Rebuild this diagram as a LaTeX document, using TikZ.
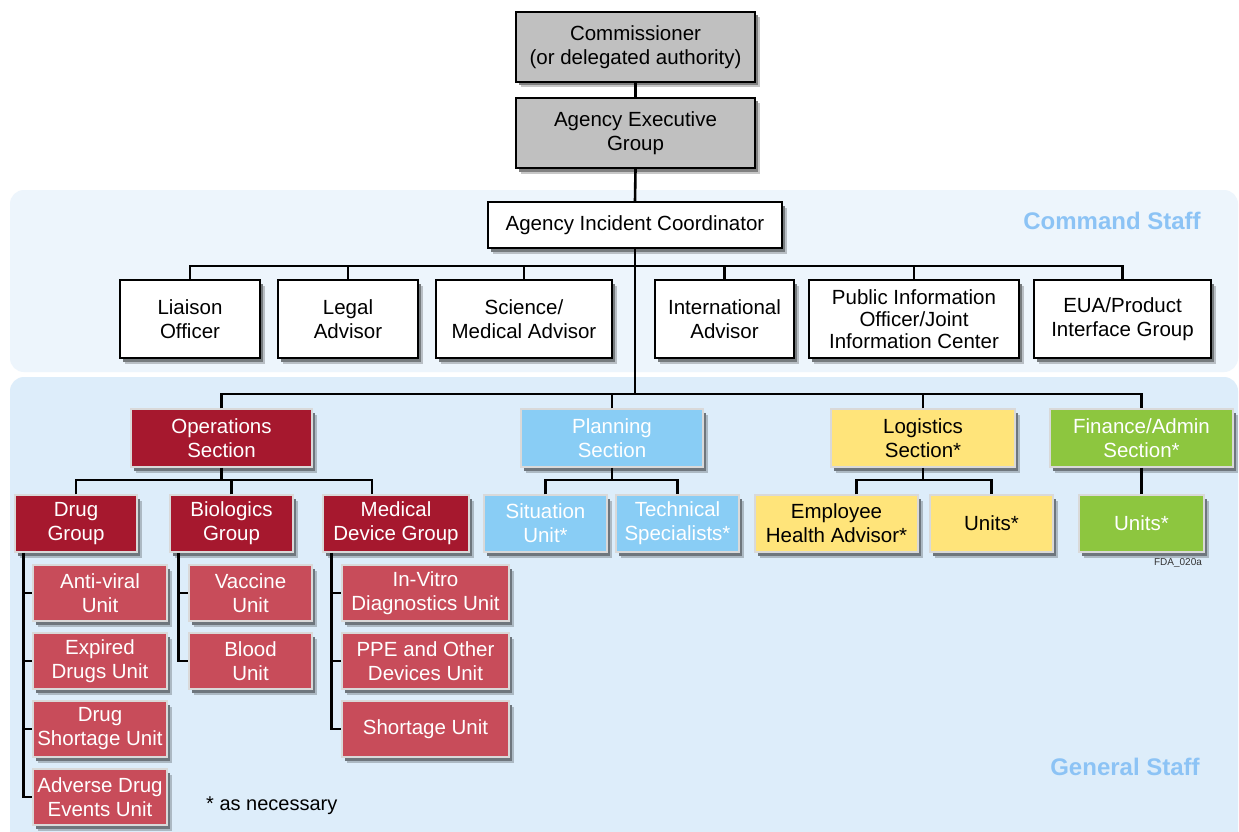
\documentclass[tikz,border=0pt]{standalone}
\usepackage{fontspec}
\setmainfont{Liberation Sans}
\usetikzlibrary{shadows}

\definecolor{cmdband}{RGB}{237,245,252}
\definecolor{genband}{RGB}{221,237,250}
\definecolor{boxgrey}{RGB}{192,192,192}
\definecolor{opsred}{RGB}{166,24,46}
\definecolor{unitred}{RGB}{200,76,90}
\definecolor{planblue}{RGB}{137,205,245}
\definecolor{logyellow}{RGB}{255,228,122}
\definecolor{fingreen}{RGB}{141,198,63}
\definecolor{staffblue}{RGB}{140,195,245}

% box from corner (x1,y1) to corner (x2,y2)
\newcommand\orgbox[7]{%
  \pgfmathsetmacro\obxc{(#3+#5)/2}\pgfmathsetmacro\obyc{(#4+#6)/2}%
  \pgfmathsetmacro\obw{#5-#3}\pgfmathsetmacro\obh{#6-#4}%
  \node[#1,minimum width=\obw pt,minimum height=\obh pt] (#2) at (\obxc,\obyc) {#7};}

\begin{document}
\begin{tikzpicture}[x=1pt,y=-1pt,
  base/.style={rectangle,align=center,inner sep=0pt,
    font=\fontsize{20.5}{24}\selectfont},
  % soft shadow: a light outer layer under a darker inner one
  shd/.style={
    general shadow={shadow xshift=5pt,shadow yshift=-5.5pt,fill=black!22!#1,draw=none},
    general shadow={shadow xshift=3pt,shadow yshift=-3.5pt,fill=black!50!#1,draw=none}},
  wbox/.style={base,shd=cmdband,draw=black,line width=2.4pt,fill=white},
  gbox/.style={base,shd=white,draw=black,line width=2.4pt,fill=boxgrey},
  cbox/.style={base,shd=genband,draw=white!85!black,line width=1.5pt},
  opsbox/.style={cbox,fill=opsred,text=white},
  unitbox/.style={cbox,fill=unitred,text=white},
  planbox/.style={cbox,fill=planblue,text=white},
  logbox/.style={cbox,fill=logyellow,text=black},
  finbox/.style={cbox,fill=fingreen,text=white},
  conn/.style={draw=black,line width=2.6pt},
  stafflabel/.style={text=staffblue,font=\fontsize{24}{28}\selectfont\bfseries},
]
\useasboundingbox (0,0) rectangle (1239,832);
\clip (0,0) rectangle (1239,832);
\fill[white] (0,0) rectangle (1239,832);

% staff bands
\fill[cmdband,rounded corners=14pt] (10,190) rectangle (1238,372);
\fill[genband,rounded corners=14pt] (10,377) rectangle (1238,860);

% top chain
\orgbox{gbox}{comm}{516}{12}{755}{82}{Commissioner\\(or delegated authority)}
\orgbox{gbox}{aeg}{516}{98}{755}{168}{Agency Executive\\Group}
\orgbox{wbox}{aic}{488}{202}{782}{248}{Agency Incident Coordinator}

% command staff
\orgbox{wbox}{liaison}{120}{280}{260}{358}{Liaison\\Officer}
\orgbox{wbox}{legal}{278}{280}{418}{358}{Legal\\Advisor}
\orgbox{wbox}{science}{436}{280}{612}{358}{Science/\\Medical Advisor}
\orgbox{wbox}{intl}{655}{280}{794}{358}{International\\Advisor}
\orgbox{wbox,font=\fontsize{20.5}{22}\selectfont}{pio}{809}{280}{1019}{358}{Public Information\\Officer/Joint\\Information Center}
\orgbox{wbox}{eua}{1034}{280}{1211}{358}{EUA/Product\\Interface Group}

% general staff sections
\orgbox{opsbox}{ops}{131}{409}{312}{467}{Operations\\Section}
\orgbox{planbox}{plan}{521}{409}{703}{467}{Planning\\Section}
\orgbox{logbox}{logi}{831}{409}{1015}{467}{Logistics\\Section*}
\orgbox{finbox}{fin}{1050}{409}{1233}{467}{Finance/Admin\\Section*}

% groups
\orgbox{opsbox}{drug}{15}{495}{137}{552}{Drug\\Group}
\orgbox{opsbox}{bio}{170}{495}{293}{552}{Biologics\\Group}
\orgbox{opsbox}{med}{323}{495}{469}{552}{Medical\\Device Group}
\orgbox{planbox}{sit}{484}{495}{607}{552}{Situation\\Unit*}
\orgbox{planbox}{tech}{616}{495}{739}{552}{Technical\\Specialists*}
\orgbox{logbox}{emp}{755}{495}{918}{552}{Employee\\Health Advisor*}
\orgbox{logbox}{lunits}{930}{495}{1053}{552}{Units*}
\orgbox{finbox}{funits}{1079}{495}{1204}{552}{Units*}

% units
\orgbox{unitbox}{antiviral}{33}{565}{167}{621}{Anti-viral\\Unit}
\orgbox{unitbox}{expired}{33}{633}{167}{689}{Expired\\Drugs Unit}
\orgbox{unitbox}{dshort}{33}{701}{167}{757}{Drug\\Shortage Unit}
\orgbox{unitbox}{adverse}{33}{769}{167}{825}{Adverse Drug\\Events Unit}
\orgbox{unitbox}{vaccine}{189}{565}{312}{621}{Vaccine\\Unit}
\orgbox{unitbox}{blood}{189}{633}{312}{689}{Blood\\Unit}
\orgbox{unitbox}{invitro}{342}{565}{509}{621}{In-Vitro\\Diagnostics Unit}
\orgbox{unitbox}{ppe}{342}{633}{509}{689}{PPE and Other\\Devices Unit}
\orgbox{unitbox}{mshort}{342}{701}{509}{757}{Shortage Unit}

% bus levels
\coordinate (cbus) at (0,266);
\coordinate (gbus) at (0,394);
\coordinate (obus) at (0,480);

% connectors: top chain
\draw[conn] (comm.south) -- (aeg.north);
\draw[conn] (aeg.south) -- (aic.north);
\draw[conn] (aic.south) -- (aic.south |- gbus);

% command staff bus
\draw[conn] (liaison.north) -- (liaison.north |- cbus) -- (eua.north |- cbus) -- (eua.north);
\foreach \n in {legal,science,intl,pio}
  \draw[conn] (\n.north) -- (\n.north |- cbus);

% general staff bus
\draw[conn] (ops.north) -- (ops.north |- gbus) -- (fin.north |- gbus) -- (fin.north);
\draw[conn] (plan.north) -- (plan.north |- gbus);
\draw[conn] (logi.north) -- (logi.north |- gbus);

% section to group
\draw[conn] (ops.south) -- (ops.south |- obus);
\draw[conn] (drug.north) |- ([xshift=-24pt]med.north |- obus) -- ([xshift=-24pt]med.north);
\draw[conn] (bio.north) -- (bio.north |- obus);
\draw[conn] (plan.south) -- (plan.south |- obus);
\draw[conn] (sit.north) |- (tech.north |- obus) -- (tech.north);
\draw[conn] (logi.south) -- (logi.south |- obus);
\draw[conn] ([xshift=20pt]emp.north) |- (lunits.north |- obus) -- (lunits.north);
\draw[conn] (fin.south) -- (funits.north);

% group to unit
\coordinate (dl) at ([xshift=9pt]drug.south west);
\coordinate (bl) at ([xshift=9pt]bio.south west);
\coordinate (ml) at ([xshift=9pt]med.south west);
\draw[conn] (dl) |- (adverse.west);
\foreach \u in {antiviral,expired,dshort} \draw[conn] (\u.west -| dl) -- (\u.west);
\draw[conn] (bl) |- (blood.west);
\draw[conn] (vaccine.west -| bl) -- (vaccine.west);
\draw[conn] (ml) |- (mshort.west);
\foreach \u in {invitro,ppe} \draw[conn] (\u.west -| ml) -- (\u.west);

% labels
\node[stafflabel] (cmdlabel) at (1112,221) {Command Staff};
\node[stafflabel] (genlabel) at (1125,767) {General Staff};
\node[anchor=west,font=\fontsize{20}{24}\selectfont,inner sep=0pt] (note) at (206,806) {* as necessary};
\node[font=\fontsize{10}{12}\selectfont,text=black!80,inner sep=0pt] (code) at (1178,563) {FDA\_020a};
\end{tikzpicture}
\end{document}
